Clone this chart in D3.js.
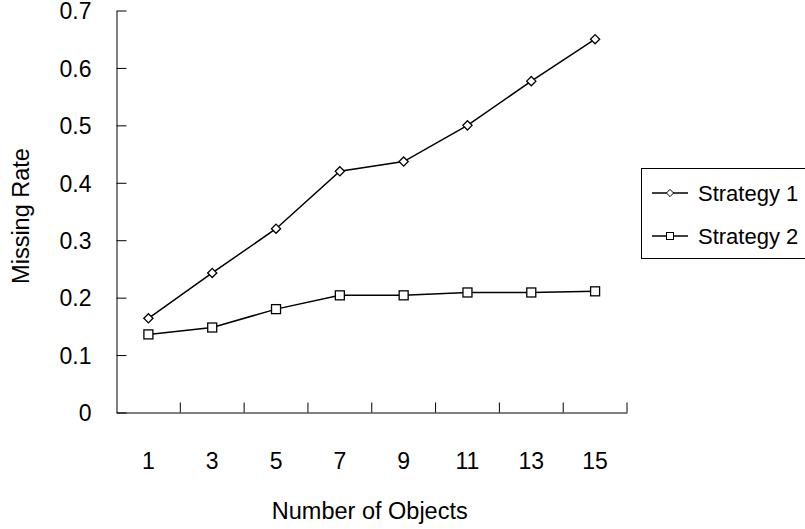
<!DOCTYPE html>
<html>
<head>
<meta charset="utf-8">
<script src="https://cdn.jsdelivr.net/npm/d3@7"></script>
<style>
  body { margin: 0; background: #fff; }
  text { font-family: "Liberation Sans", Arial, sans-serif; fill: #000; }
</style>
</head>
<body>
<div id="chart"></div>
<script>
// data
const categories = ["1", "3", "5", "7", "9", "11", "13", "15"];
const strategy1 = [0.164, 0.243, 0.320, 0.420, 0.437, 0.500, 0.577, 0.650];
const strategy2 = [0.136, 0.148, 0.180, 0.204, 0.204, 0.209, 0.209, 0.211];
const seriesNames = ["Strategy 1", "Strategy 2"];
const yTicks = [0, 0.1, 0.2, 0.3, 0.4, 0.5, 0.6, 0.7];
const yTickLabels = ["0", "0.1", "0.2", "0.3", "0.4", "0.5", "0.6", "0.7"];

const width = 805, height = 529;
const plot = {left: 116.5, right: 627, top: 10.5, bottom: 412.5};

const svg = d3.select("#chart").append("svg")
  .attr("width", width)
  .attr("height", height);

const x = d3.scaleBand()
  .domain(categories)
  .range([plot.left, plot.right])
  .padding(0);

const y = d3.scaleLinear()
  .domain([0, 0.7])
  .range([plot.bottom, plot.top]);

// Y axis, ticks point inward
const gy = svg.append("g")
  .attr("transform", "translate(" + plot.left + ",0)")
  .call(d3.axisLeft(y)
    .tickValues(yTicks)
    .tickFormat((d, i) => yTickLabels[i])
    .tickSizeInner(-10)
    .tickSizeOuter(0)
    .tickPadding(25));
gy.selectAll("text").style("font-size", "23px").attr("dy", "0.36em");

// X axis: labels at band centers, ticks at band edges
const gx = svg.append("g")
  .attr("transform", "translate(0," + plot.bottom + ")")
  .call(d3.axisBottom(x).tickSize(0).tickPadding(40));
gx.selectAll("text").style("font-size", "23px");

const edges = categories.map(c => x(c) + x.bandwidth());
svg.append("g")
  .selectAll("line")
  .data(edges)
  .join("line")
    .attr("x1", d => d)
    .attr("x2", d => d)
    .attr("y1", plot.bottom)
    .attr("y2", plot.bottom - 10)
    .attr("stroke", "#000");

svg.selectAll(".domain, .tick line").attr("stroke", "#000");

const cx = c => x(c) + x.bandwidth() / 2;

const line = d3.line()
  .x((d, i) => cx(categories[i]))
  .y(d => y(d));

const diamond = s => "M0," + (-s) + "L" + s + ",0L0," + s + "L" + (-s) + ",0Z";

function drawSeries(values, shape) {
  svg.append("path")
    .datum(values)
    .attr("d", line)
    .attr("fill", "none")
    .attr("stroke", "#000")
    .attr("stroke-width", 1.5);

  const g = svg.append("g")
    .selectAll("g")
    .data(values)
    .join("g")
      .attr("transform", (d, i) => "translate(" + cx(categories[i]) + "," + y(d) + ")");

  if (shape === "diamond") {
    g.append("path").attr("d", diamond(4.6));
  } else {
    g.append("rect").attr("x", -4.5).attr("y", -4.5).attr("width", 9).attr("height", 9);
  }
  g.selectAll("path, rect")
    .attr("fill", "#fff")
    .attr("stroke", "#000")
    .attr("stroke-width", 1.3);
}

drawSeries(strategy1, "diamond");
drawSeries(strategy2, "square");

// axis titles
svg.append("text")
  .attr("x", (plot.left + plot.right) / 2 - 2)
  .attr("y", 519)
  .attr("text-anchor", "middle")
  .style("font-size", "23.5px")
  .text("Number of Objects");

svg.append("text")
  .attr("transform", "translate(29,216) rotate(-90)")
  .attr("text-anchor", "middle")
  .style("font-size", "23.5px")
  .text("Missing Rate");

// legend
const legend = svg.append("g");
legend.append("rect")
  .attr("x", 641.5).attr("y", 168.5)
  .attr("width", 200).attr("height", 90)
  .attr("fill", "none")
  .attr("stroke", "#000");

const shapes = ["diamond", "square"];
seriesNames.forEach((name, i) => {
  const ly = 193 + i * 43;
  legend.append("line")
    .attr("x1", 652).attr("x2", 688)
    .attr("y1", ly).attr("y2", ly)
    .attr("stroke", "#000").attr("stroke-width", 1.3);
  if (shapes[i] === "diamond") {
    legend.append("path")
      .attr("transform", "translate(670," + ly + ")")
      .attr("d", diamond(3.6))
      .attr("fill", "#fff").attr("stroke", "#000");
  } else {
    legend.append("rect")
      .attr("x", 666.5).attr("y", ly - 3.5)
      .attr("width", 7).attr("height", 7)
      .attr("fill", "#fff").attr("stroke", "#000");
  }
  legend.append("text")
    .attr("x", 698)
    .attr("y", ly + 8)
    .style("font-size", "22px")
    .text(name);
});
</script>
</body>
</html>
